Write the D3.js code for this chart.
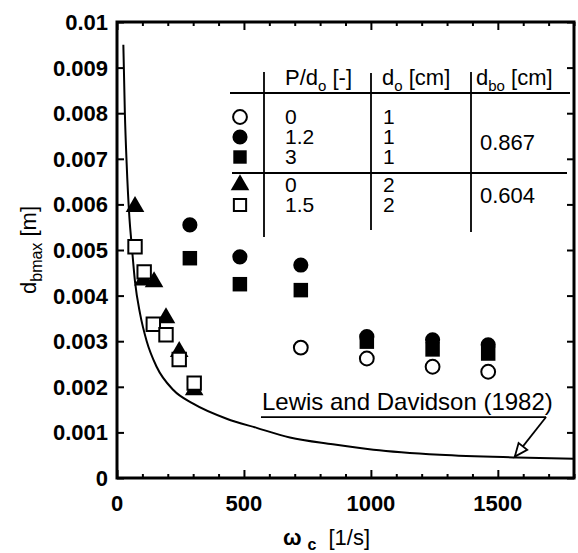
<!DOCTYPE html>
<html>
<head>
<meta charset="utf-8">
<script src="https://cdn.jsdelivr.net/npm/d3@7"></script>
<style>
  html, body { margin: 0; padding: 0; background: #fff; }
  svg { display: block; font-family: "Liberation Sans", Arial, Helvetica, sans-serif; }
</style>
</head>
<body>
<svg id="chart" width="578" height="553"></svg>
<script>
// ---- data ----
const xTicks = [0, 500, 1000, 1500];
const yTicks = [0, 0.001, 0.002, 0.003, 0.004, 0.005, 0.006, 0.007, 0.008, 0.009, 0.01];
const yTickLabels = ["0", "0.001", "0.002", "0.003", "0.004", "0.005", "0.006", "0.007", "0.008", "0.009", "0.01"];

// P/do=0, do=1 (open circle)
const openCircleX = [724, 984, 1243, 1462];
const openCircleY = [0.00286, 0.00262, 0.00244, 0.00233];
// P/do=1.2, do=1 (filled circle)
const filledCircleX = [287, 484, 724, 984, 1243, 1462];
const filledCircleY = [0.00555, 0.00485, 0.00467, 0.0031, 0.00303, 0.00292];
// P/do=3, do=1 (filled square)
const filledSquareX = [287, 484, 724, 984, 1243, 1462];
const filledSquareY = [0.00482, 0.00425, 0.00412, 0.00299, 0.00282, 0.00273];
// P/do=0, do=2 (filled triangle)
const triangleX = [71, 104, 146, 193, 245, 304];
const triangleY = [0.00595, 0.00434, 0.0043, 0.00351, 0.00277, 0.00193];
// P/do=1.5, do=2 (open square)
const openSquareX = [71, 107, 143, 193, 245, 304];
const openSquareY = [0.00507, 0.00452, 0.00337, 0.00314, 0.0026, 0.00208];

// Lewis and Davidson (1982) curve
const curveX = [25, 31, 38, 49, 58, 71, 91, 117, 156, 222, 300, 432, 550, 681, 850, 1010, 1272, 1574, 1800];
const curveY = [0.0095, 0.0080, 0.0069, 0.0057, 0.0051, 0.0043, 0.0036, 0.0030, 0.00244, 0.00193, 0.00163, 0.0013, 0.0011, 0.00089, 0.00074, 0.00062, 0.00051, 0.00045, 0.00042];

// legend table
const legendPd = ["0", "1.2", "3", "0", "1.5"];
const legendDo = ["1", "1", "1", "2", "2"];
const legendDbo = ["0.867", "0.604"];

// ---- layout ----
const svg = d3.select("#chart");
const L = 117, R = 574, T = 22, B = 478;
const x = d3.scaleLinear().domain([0, 1800]).range([L, R]);
const y = d3.scaleLinear().domain([0, 0.01]).range([B, T]);
const FONT = 22;
const TFONT = 21;

// curve
const line = d3.line().x(d => x(d[0])).y(d => y(d[1])).curve(d3.curveMonotoneX);
svg.append("path")
  .datum(curveX.map((v, i) => [v, curveY[i]]))
  .attr("d", line)
  .attr("fill", "none").attr("stroke", "#000").attr("stroke-width", 2);

// axes with inward ticks
const g = svg.append("g");
g.append("g").attr("transform", `translate(0,${B})`)
  .call(d3.axisBottom(x).tickValues(d3.range(0, 1801, 100)).tickSize(-4).tickFormat(""))
  .call(a => a.select(".domain").remove())
  .call(a => a.selectAll("line").attr("stroke-width", 2).attr("y2", d => d % 500 === 0 ? -8 : -4));
g.append("g").attr("transform", `translate(0,${T})`)
  .call(d3.axisTop(x).tickValues(d3.range(0, 1801, 100)).tickSize(-4).tickFormat(""))
  .call(a => a.select(".domain").remove())
  .call(a => a.selectAll("line").attr("stroke-width", 2).attr("y2", d => d % 500 === 0 ? 8 : 4));
g.append("g").attr("transform", `translate(${L},0)`)
  .call(d3.axisLeft(y).tickValues(yTicks).tickSize(-7).tickFormat(""))
  .call(a => a.select(".domain").remove())
  .call(a => a.selectAll("line").attr("stroke-width", 2));
g.append("g").attr("transform", `translate(${R},0)`)
  .call(d3.axisRight(y).tickValues(yTicks).tickSize(-7).tickFormat(""))
  .call(a => a.select(".domain").remove())
  .call(a => a.selectAll("line").attr("stroke-width", 2));

// frame
svg.append("rect").attr("x", L).attr("y", T).attr("width", R - L).attr("height", B - T)
  .attr("fill", "none").attr("stroke", "#000").attr("stroke-width", 3);

// tick labels
svg.append("g").selectAll("text").data(yTicks).join("text")
  .attr("x", 108).attr("y", d => y(d)).attr("dy", "0.36em")
  .attr("text-anchor", "end").attr("font-size", FONT).attr("font-weight", "bold")
  .text((d, i) => yTickLabels[i]);
svg.append("g").selectAll("text").data(xTicks).join("text")
  .attr("x", d => x(d)).attr("y", 511)
  .attr("text-anchor", "middle").attr("font-size", FONT).attr("font-weight", "bold")
  .text(d => d);

// axis titles
const yt = svg.append("text").attr("transform", "translate(36,250) rotate(-90)")
  .attr("text-anchor", "middle").attr("font-size", FONT);
yt.append("tspan").text("d");
yt.append("tspan").attr("dy", 6).attr("font-size", 16).text("bmax");
yt.append("tspan").attr("dy", -6).text(" [m]");

const xt = svg.append("text").attr("x", 283).attr("y", 545).attr("font-size", FONT);
xt.append("tspan").attr("font-weight", "bold").text("ω");
xt.append("tspan").attr("dx", 6).attr("dy", 5).attr("font-size", 16).attr("font-weight", "bold").text("c");
xt.append("tspan").attr("dx", 12).attr("dy", -5).text("[1/s]");

// markers
function sym(type, size) { return d3.symbol().type(type).size(size)(); }
function plot(xs, ys, type, size, filled) {
  svg.append("g").selectAll("path").data(xs.map((v, i) => [v, ys[i]])).join("path")
    .attr("transform", d => `translate(${x(d[0])},${y(d[1])})`)
    .attr("d", sym(type, size))
    .attr("fill", filled ? "#000" : "#fff")
    .attr("stroke", "#000").attr("stroke-width", filled ? 0 : 2);
}
plot(filledCircleX, filledCircleY, d3.symbolCircle, 180, true);
plot(filledSquareX, filledSquareY, d3.symbolSquare, 210, true);
plot(openCircleX, openCircleY, d3.symbolCircle, 150, false);
plot(triangleX, triangleY, d3.symbolTriangle, 150, true);
plot(openSquareX, openSquareY, d3.symbolSquare, 180, false);

// legend table
const lg = svg.append("g");
const ln = (x1, y1, x2, y2) => lg.append("line").attr("x1", x1).attr("y1", y1).attr("x2", x2).attr("y2", y2)
  .attr("stroke", "#000").attr("stroke-width", 1.8);
ln(264, 72, 264, 237);
ln(371, 73, 371, 230);
ln(471, 72, 471, 232);
ln(230, 93, 570, 93);
ln(232, 173, 567, 173);

const hdr = (xp, main, sub, rest) => {
  const t = lg.append("text").attr("x", xp).attr("y", 85).attr("font-size", TFONT + 1);
  t.append("tspan").text(main);
  t.append("tspan").attr("dy", 6).attr("font-size", 15).text(sub);
  t.append("tspan").attr("dy", -6).text(rest);
};
hdr(285, "P/d", "o", " [-]");
hdr(382, "d", "o", " [cm]");
hdr(476, "d", "bo", " [cm]");

const rowY = [117, 137, 157, 185, 205];
const legendSyms = [
  [d3.symbolCircle, 150, false],
  [d3.symbolCircle, 180, true],
  [d3.symbolSquare, 180, true],
  [d3.symbolTriangle, 150, true],
  [d3.symbolSquare, 150, false]
];
legendSyms.forEach((s, i) => {
  lg.append("path").attr("transform", `translate(240,${rowY[i]})`)
    .attr("d", sym(s[0], s[1]))
    .attr("fill", s[2] ? "#000" : "#fff")
    .attr("stroke", "#000").attr("stroke-width", s[2] ? 0 : 2);
  lg.append("text").attr("x", 285).attr("y", rowY[i]).attr("dy", "0.35em").attr("font-size", TFONT).text(legendPd[i]);
  lg.append("text").attr("x", 383).attr("y", rowY[i]).attr("dy", "0.35em").attr("font-size", TFONT).text(legendDo[i]);
});
lg.append("text").attr("x", 480).attr("y", 142).attr("dy", "0.36em").attr("font-size", TFONT + 1).text(legendDbo[0]);
lg.append("text").attr("x", 480).attr("y", 195).attr("dy", "0.36em").attr("font-size", TFONT + 1).text(legendDbo[1]);

// annotation
const ax = x(571), ay = y(0.00149);
svg.append("text").attr("x", ax).attr("y", ay).attr("font-size", 24).text("Lewis and Davidson (1982)");
svg.append("line").attr("x1", ax - 1).attr("y1", ay + 7).attr("x2", x(1690)).attr("y2", ay + 7)
  .attr("stroke", "#000").attr("stroke-width", 1.8);
const tipX = x(1567), tipY = y(0.00047);
const sX = x(1690), sY = ay + 7;
svg.append("line").attr("x1", sX).attr("y1", sY).attr("x2", tipX).attr("y2", tipY)
  .attr("stroke", "#000").attr("stroke-width", 1.8);
const ang = Math.atan2(tipY - sY, tipX - sX);
const hl = 13, hw = 5.5;
const bx = tipX - hl * Math.cos(ang), by = tipY - hl * Math.sin(ang);
const px = -Math.sin(ang), py = Math.cos(ang);
svg.append("path")
  .attr("d", `M${tipX},${tipY}L${bx + hw * px},${by + hw * py}L${bx - hw * px},${by - hw * py}Z`)
  .attr("fill", "#fff").attr("stroke", "#000").attr("stroke-width", 1.8);
</script>
</body>
</html>
